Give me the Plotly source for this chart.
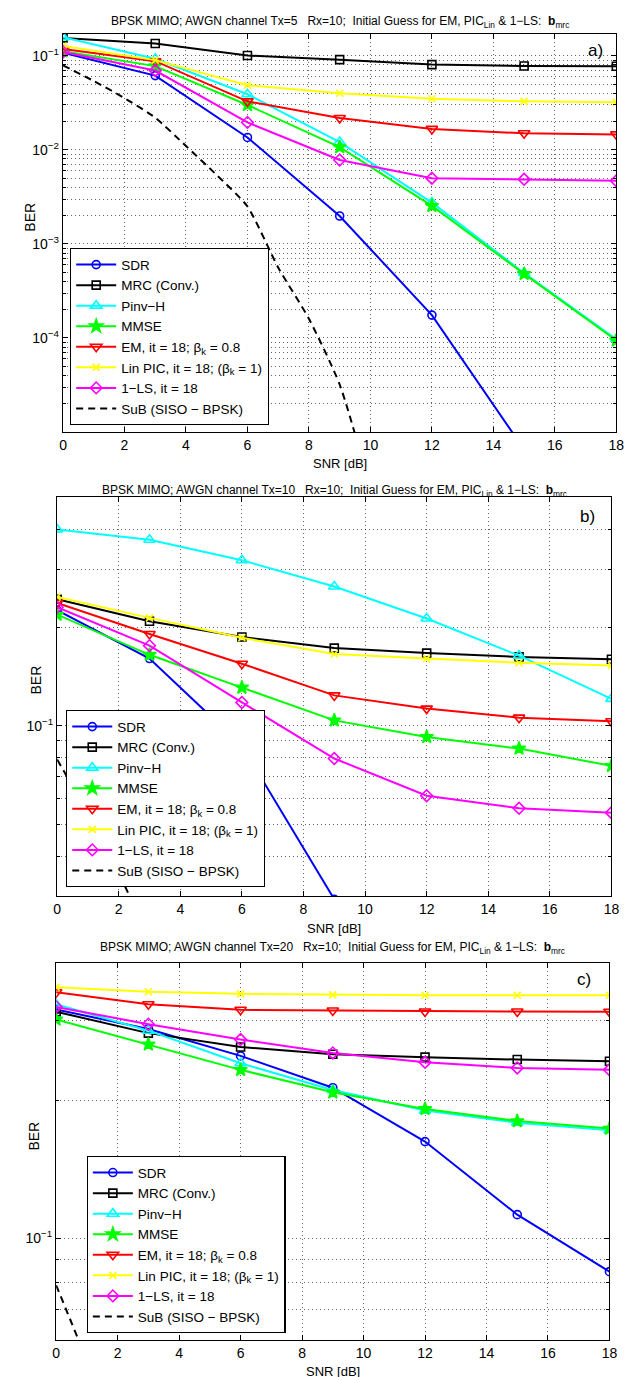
import plotly.graph_objects as go

W, H = 634, 1377

# ---------------- data ----------------
snr = [0, 3, 6, 9, 12, 15, 18]
x_ticks = [0, 2, 4, 6, 8, 10, 12, 14, 16, 18]

# single-user bound (SISO BPSK)
sub_snr = [0, 1, 2, 3, 4, 5, 6, 7, 8, 9, 10]
sub_ber = [0.079, 0.054, 0.0355, 0.022, 0.011, 0.0054, 0.0025, 5.6e-4, 1.6e-4, 3.2e-5, 2.5e-6]

series_names = ["SDR", "MRC (Conv.)", "Pinv\u2212H", "MMSE",
                "EM, it = 18; \u03b2<sub>k</sub> = 0.8",
                "Lin PIC, it = 18; (\u03b2<sub>k</sub> = 1)",
                "1\u2212LS, it = 18"]
sub_name = "SuB (SISO \u2212 BPSK)"

# panel a) Tx=5
a_sdr = [0.108, 0.0616, 0.01355, 0.00198, 1.75e-4, 6.5e-6, 2e-7]
a_mrc = [0.155, 0.135, 0.1007, 0.091, 0.0807, 0.078, 0.0776]
a_pinv = [0.158, 0.093, 0.039, 0.0121, 0.00275, 4.9e-4, 9.7e-5]
a_mmse = [0.112, 0.0777, 0.030, 0.0107, 0.00254, 4.8e-4, 9.4e-5]
a_em = [0.118, 0.0877, 0.0328, 0.0218, 0.0167, 0.015, 0.0146]
a_linpic = [0.127, 0.090, 0.0487, 0.040, 0.035, 0.0328, 0.032]
a_ls = [0.110, 0.0697, 0.0196, 0.0078, 0.0050, 0.00486, 0.0047]

# panel b) Tx=10
b_sdr = [0.226, 0.1607, 0.087, 0.0295, 0.008, 0.0015, 0.0002]
b_mrc = [0.244, 0.209, 0.187, 0.173, 0.167, 0.1626, 0.160]
b_pinv = [0.399, 0.371, 0.321, 0.267, 0.213, 0.164, 0.121]
b_mmse = [0.219, 0.165, 0.131, 0.104, 0.0925, 0.0853, 0.0755]
b_em = [0.2377, 0.191, 0.155, 0.124, 0.113, 0.106, 0.1033]
b_linpic = [0.248, 0.214, 0.186, 0.166, 0.1607, 0.156, 0.153]
b_ls = [0.2306, 0.176, 0.118, 0.0795, 0.0612, 0.056, 0.0543]

# panel c) Tx=20
c_sdr = [0.3165, 0.287, 0.2506, 0.2135, 0.1628, 0.1127, 0.0846]
c_mrc = [0.313, 0.281, 0.262, 0.2527, 0.249, 0.246, 0.244]
c_pinv = [0.325, 0.2845, 0.2415, 0.211, 0.1903, 0.179, 0.1724]
c_mmse = [0.301, 0.2655, 0.2336, 0.2086, 0.1919, 0.1805, 0.1738]
c_em = [0.345, 0.325, 0.316, 0.315, 0.3134, 0.3134, 0.313]
c_linpic = [0.354, 0.346, 0.3425, 0.3406, 0.340, 0.340, 0.340]
c_ls = [0.3206, 0.294, 0.272, 0.2544, 0.2426, 0.2359, 0.2336]

titles = [
    "BPSK MIMO; AWGN channel Tx=5\u00a0\u00a0\u00a0Rx=10;\u00a0\u00a0Initial Guess for EM, PIC<sub>Lin</sub> & 1\u2212LS:\u00a0\u00a0<b>b</b><sub>mrc</sub>",
    "BPSK MIMO; AWGN channel Tx=10\u00a0\u00a0\u00a0Rx=10;\u00a0\u00a0Initial Guess for EM, PIC<sub>Lin</sub> & 1\u2212LS:\u00a0\u00a0<b>b</b><sub>mrc</sub>",
    "BPSK MIMO; AWGN channel Tx=20\u00a0\u00a0\u00a0Rx=10;\u00a0\u00a0Initial Guess for EM, PIC<sub>Lin</sub> & 1\u2212LS:\u00a0\u00a0<b>b</b><sub>mrc</sub>",
]
panel_labels = ["a)", "b)", "c)"]

# ---------------- styling ----------------
colors = ["#0000FF", "#000000", "#00FFFF", "#00FF00", "#FF0000", "#FFFF00", "#FF00FF"]
symbols = ["circle-open", "square-open", "triangle-up-open", "star",
           "triangle-down-open", "x-thin-open", "diamond-open"]
msizes = [8, 8, 10, 10, 10, 7, 9]
FONT = "Liberation Sans, Arial, Helvetica, sans-serif"
GRID = "rgba(0,0,0,0.6)"

panels = [
    dict(data=[a_sdr, a_mrc, a_pinv, a_mmse, a_em, a_linpic, a_ls],
         x0=52, x1=616, top=26, bot=424, yrange=[-5.0, -0.768],
         major=[1e-4, 1e-3, 1e-2, 1e-1],
         majortext=["10<sup>\u22124</sup>", "10<sup>\u22123</sup>", "10<sup>\u22122</sup>", "10<sup>\u22121</sup>"],
         leg=(59, 417), title_y=14, xlab_y=455, ylab=(18, 209), lab=(595, 43)),
    dict(data=[b_sdr, b_mrc, b_pinv, b_mmse, b_em, b_linpic, b_ls],
         x0=46, x1=611, top=489, bot=888, yrange=[-1.52, -0.30],
         major=[1e-1], majortext=["10<sup>\u22121</sup>"],
         leg=(55, 879), title_y=483, xlab_y=920, ylab=(24, 672), lab=(587, 508)),
    dict(data=[c_sdr, c_mrc, c_pinv, c_mmse, c_em, c_linpic, c_ls],
         x0=45, x1=609, top=955, bot=1332, yrange=[-1.222, -0.398],
         major=[1e-1], majortext=["10<sup>\u22121</sup>"],
         leg=(76, 1325), title_y=940, xlab_y=1363, ylab=(22, 1128), lab=(583, 971)),
]

minor_vals = [m * 10.0 ** e for e in range(-6, 1) for m in range(2, 10)]

fig = go.Figure()
layout = dict(width=W, height=H, margin=dict(l=0, r=0, t=0, b=0), autosize=False,
              paper_bgcolor="white", plot_bgcolor="white",
              font=dict(family=FONT, size=14, color="black"), annotations=[])

for i, p in enumerate(panels):
    n = i + 1
    xa = "x" if n == 1 else f"x{n}"
    ya = "y" if n == 1 else f"y{n}"
    lg = "legend" if n == 1 else f"legend{n}"
    for k in range(7):
        fig.add_trace(go.Scatter(
            x=snr, y=p["data"][k], mode="lines+markers", name=series_names[k],
            line=dict(color=colors[k], width=2),
            marker=dict(symbol=symbols[k], size=msizes[k], color=colors[k],
                        line=dict(color=colors[k], width=1.6)),
            xaxis=xa, yaxis=ya, legend=lg, showlegend=True))
    fig.add_trace(go.Scatter(
        x=sub_snr, y=sub_ber, mode="lines", name=sub_name,
        line=dict(color="black", width=2, dash="7px,5px", shape="spline", smoothing=0.6),
        xaxis=xa, yaxis=ya, legend=lg, showlegend=True))

    xkey = "xaxis" if n == 1 else f"xaxis{n}"
    ykey = "yaxis" if n == 1 else f"yaxis{n}"
    layout[xkey] = dict(domain=[p["x0"] / W, p["x1"] / W], anchor=ya, range=[0, 18],
                        tickmode="array", tickvals=x_ticks,
                        showline=True, linecolor="black", linewidth=1.3, mirror="allticks",
                        ticks="inside", ticklen=5, tickcolor="black",
                        showgrid=True, gridcolor=GRID, griddash="1px,3px", gridwidth=1,
                        zeroline=False, tickfont=dict(size=14))
    layout[ykey] = dict(domain=[1 - p["bot"] / H, 1 - p["top"] / H], anchor=xa,
                        type="log", range=p["yrange"],
                        tickmode="array", tickvals=p["major"], ticktext=p["majortext"],
                        showline=True, linecolor="black", linewidth=1.3, mirror="allticks",
                        ticks="inside", ticklen=5, tickcolor="black",
                        showgrid=True, gridcolor=GRID, griddash="1px,3px", gridwidth=1,
                        zeroline=False, tickfont=dict(size=14),
                        minor=dict(tickmode="array", tickvals=minor_vals, ticks="inside",
                                   ticklen=3, tickcolor="black", showgrid=True,
                                   gridcolor=GRID, griddash="1px,3px", gridwidth=1))
    layout[lg] = dict(x=p["leg"][0] / W, y=1 - p["leg"][1] / H, xanchor="left", yanchor="bottom",
                      xref="paper", yref="paper",
                      bgcolor="white", bordercolor="black", borderwidth=1.3,
                      font=dict(size=13.5, family=FONT), itemwidth=40, tracegroupgap=0)

    cx = (p["x0"] + p["x1"]) / 2 / W
    layout["annotations"] += [
        dict(text=titles[i], x=cx, y=1 - p["title_y"] / H, xref="paper", yref="paper",
             showarrow=False, xanchor="center", yanchor="middle", font=dict(size=12)),
        dict(text="SNR [dB]", x=cx, y=1 - p["xlab_y"] / H, xref="paper", yref="paper",
             showarrow=False, xanchor="center", yanchor="middle", font=dict(size=13)),
        dict(text="BER", x=p["ylab"][0] / W, y=1 - p["ylab"][1] / H, xref="paper", yref="paper",
             showarrow=False, xanchor="center", yanchor="middle", textangle=-90,
             font=dict(size=14)),
        dict(text=panel_labels[i], x=p["lab"][0] / W, y=1 - p["lab"][1] / H, xref="paper",
             yref="paper", showarrow=False, xanchor="center", yanchor="middle",
             font=dict(size=17)),
    ]

fig.update_layout(**layout)
fig.write_html("out.html")
